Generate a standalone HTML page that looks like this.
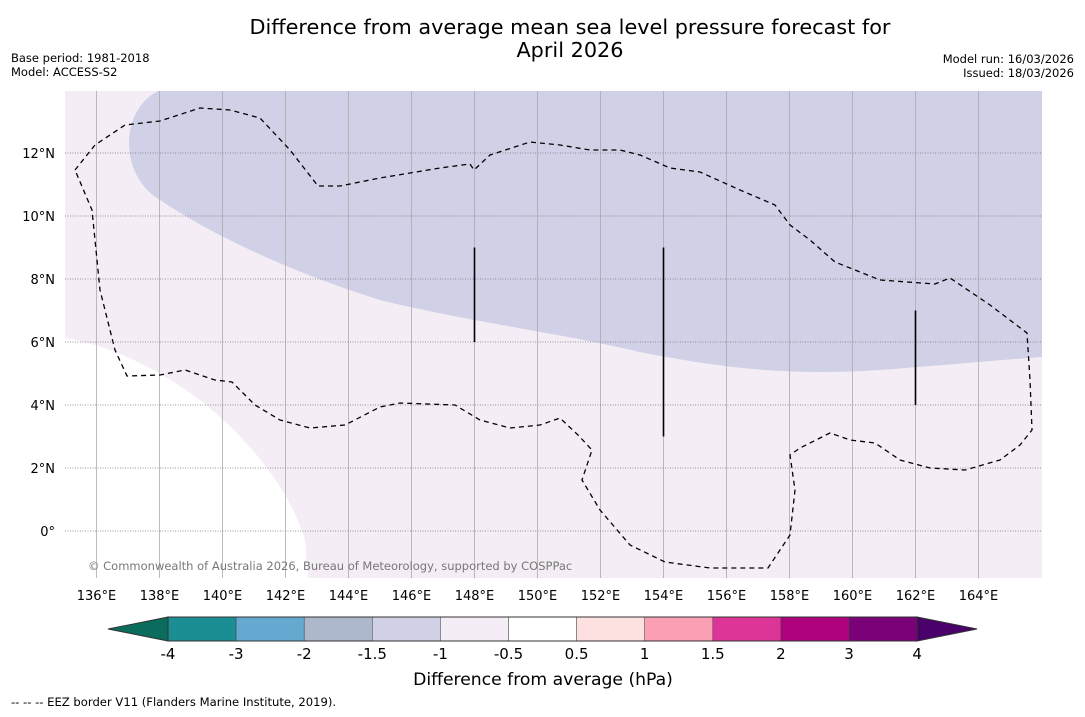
<!DOCTYPE html>
<html><head><meta charset="utf-8"><style>
body{margin:0;background:#fff;width:1085px;height:713px;overflow:hidden;font-family:"DejaVu Sans","Liberation Sans",sans-serif}
</style></head><body>
<svg width="1085" height="713" xmlns="http://www.w3.org/2000/svg" font-family="DejaVu Sans, Liberation Sans, sans-serif">
<text x="570" y="34" font-size="20.8" text-anchor="middle">Difference from average mean sea level pressure forecast for</text>
<text x="570" y="57" font-size="20.8" text-anchor="middle">April 2026</text>
<text x="11" y="62" font-size="11.5">Base period: 1981-2018</text>
<text x="11" y="76" font-size="11.5">Model: ACCESS-S2</text>
<text x="1074" y="63" font-size="11.5" text-anchor="end">Model run: 16/03/2026</text>
<text x="1074" y="77" font-size="11.5" text-anchor="end">Issued: 18/03/2026</text>
<g id="map"></g>
<g id="cbar"></g>
<text x="543" y="685" font-size="17.2" text-anchor="middle">Difference from average (hPa)</text>
<text x="11" y="706" font-size="11.6">--  --  -- EEZ border V11 (Flanders Marine Institute, 2019).</text>
</svg>
<script>
const NS="http://www.w3.org/2000/svg";
const lonTicks=[136,138,140,142,144,146,148,150,152,154,156,158,160,162,164];
const latTicks=[0,2,4,6,8,10,12];
const cbLevels=["-4","-3","-2","-1.5","-1","-0.5","0.5","1","1.5","2","3","4"];
const cbColors=["#1b8e94","#65a8d0","#aeb8cd","#d0d1e6","#f4edf5","#ffffff","#fde0e0","#fb9fb5","#dd3497","#ae017e","#7a0177"];
const x=lon=>65+(lon-135)*31.5;
const y=lat=>531-lat*31.5;
function el(tag,attrs,parent){const e=document.createElementNS(NS,tag);for(const k in attrs)e.setAttribute(k,attrs[k]);parent.appendChild(e);return e;}
const map=document.getElementById('map');
el('rect',{x:65,y:91,width:977,height:487,fill:'#f4edf5'},map);
const lav="M158,91 C120,110 118,175 160,200 C220,240 300,275 380,300 C470,322 560,333 640,352 C720,368 790,376 880,370 C960,364 1000,360 1042,357 L1042,91 Z";
const p1=el('path',{d:lav,fill:'#d0d1e6'},map);
const wh="M65,338 C110,345 160,370 200,400 C250,440 290,490 305,540 L308,578 L65,578 Z";
const p2=el('path',{d:wh,fill:'#ffffff'},map);
lonTicks.forEach(l=>{
 const ln=el('line',{x1:x(l),x2:x(l),y1:91,y2:578,stroke:'#aaa','stroke-width':0.8},map);
 
 const t=el('text',{x:x(l),y:600,'font-size':13,'text-anchor':'middle'},map);t.textContent=l+'°E';
 
});
latTicks.forEach(l=>{
 const ln=el('line',{x1:65,x2:1042,y1:y(l),y2:y(l),stroke:'#777','stroke-width':0.8,'stroke-dasharray':'1,1.5'},map);
 
 const t=el('text',{x:55,y:y(l)+5,'font-size':13,'text-anchor':'end'},map);t.textContent=l===0?'0°':l+'°N';
 
});
const eez="M75,170 L95,145 L125,125 L160,121 L200,108 L230,110 L260,118 L290,150 L318,186 L340,186 L380,178 L440,168 L470,164 L474,170 L490,155 L530,142 L560,145 L590,150 L620,150 L640,155 L670,168 L700,172 L740,190 L775,205 L790,225 L810,240 L835,262 L880,280 L935,284 L950,278 L990,305 L1027,333 L1030,380 L1032,430 L1020,445 L1000,460 L965,470 L930,468 L900,460 L875,443 L850,440 L830,433 L800,448 L790,455 L795,490 L790,535 L768,568 L710,568 L665,562 L630,545 L600,510 L582,480 L592,450 L578,435 L560,418 L540,425 L510,428 L480,420 L455,405 L400,403 L380,407 L345,425 L310,428 L280,420 L255,405 L232,382 L215,380 L185,370 L160,375 L127,376 L115,350 L100,290 L92,210 Z";
const e=el('path',{d:eez,fill:'none',stroke:'#000','stroke-width':1.3,'stroke-dasharray':'5,4'},map);

[[148,9,6],[154,9,3],[162,7,4]].forEach(v=>{
 const ln=el('line',{x1:x(v[0]),x2:x(v[0]),y1:y(v[1]),y2:y(v[2]),stroke:'#000','stroke-width':1.6},map);
 
});
const c=el('text',{x:88,y:570,'font-size':11.5,fill:'#777'},map);c.textContent='© Commonwealth of Australia 2026, Bureau of Meteorology, supported by COSPPac';

const cb=document.getElementById('cbar');
const cx0=168,cw=68.1,cy=617,ch=24;
el('polygon',{points:`108,629 ${cx0},${cy} ${cx0},${cy+ch}`,fill:'#0b6b5c',stroke:'#333','stroke-width':1},cb);
const xe=cx0+cw*11;
el('polygon',{points:`${xe},${cy} ${xe},${cy+ch} 977,629`,fill:'#49006a',stroke:'#333','stroke-width':1},cb);
cbColors.forEach((col,i)=>{
 const r=el('rect',{x:cx0+i*cw,y:cy,width:cw,height:ch,fill:col,stroke:'#444','stroke-width':0.5},cb);
 
});
el('rect',{x:cx0,y:cy,width:cw*11,height:ch,fill:'none',stroke:'#333','stroke-width':1},cb);
cbLevels.forEach((lv,i)=>{
 const t=el('text',{x:cx0+i*cw,y:659,'font-size':15,'text-anchor':'middle'},cb);t.textContent=lv;
 
});
</script>
</body></html>
